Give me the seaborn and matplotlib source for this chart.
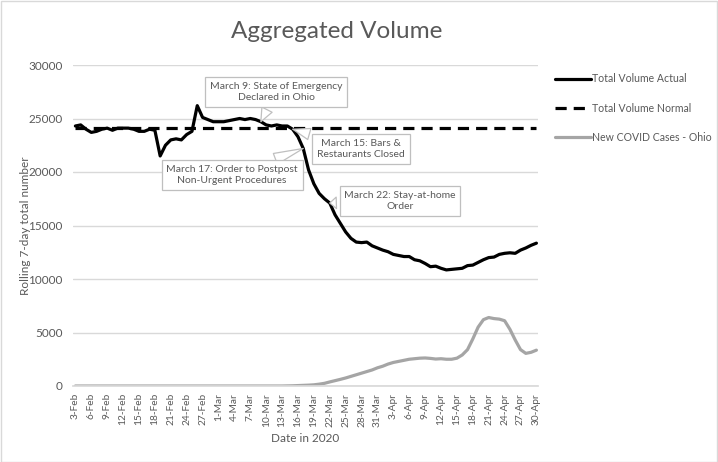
import matplotlib
matplotlib.use("Agg")
import matplotlib.pyplot as plt
import seaborn as sns
import pandas as pd
import numpy as np
from matplotlib.patches import Rectangle
from matplotlib.lines import Line2D

# ---------------- data ----------------
dates = pd.date_range("2020-02-03", "2020-04-30", freq="D")

total_volume_actual = [
    # Feb 3 - Feb 29
    24300, 24400, 24000, 23700, 23800, 24000, 24100, 23900, 24100, 24100,
    24100, 24000, 23800, 23800, 24000, 23900, 21500, 22500, 23000, 23100,
    23000, 23500, 23800, 26200, 25100, 24900, 24700,
    # Mar 1 - Mar 31
    24700, 24700, 24800, 24900, 25000, 24900, 25000, 24900, 24700, 24400,
    24300, 24400, 24300, 24300, 24000, 23300, 22200, 20200, 18900, 18000,
    17500, 17100, 16000, 15200, 14400, 13800, 13450, 13400, 13450, 13100,
    12900,
    # Apr 1 - Apr 30
    12700, 12550, 12300, 12200, 12100, 12100, 11800, 11700, 11450, 11150,
    11200, 11000, 10850, 10900, 10950, 11000, 11250, 11300, 11550, 11800,
    12000, 12050, 12300, 12400, 12450, 12400, 12700, 12900, 13150, 13350,
]

total_volume_normal = [24150] * 88

new_covid_cases_ohio = [
    # Feb 3 - Mar 12
    0, 0, 0, 0, 0, 0, 0, 0, 0, 0, 0, 0, 0, 0, 0, 0, 0, 0, 0, 0,
    0, 0, 0, 0, 0, 0, 0, 0, 0, 0, 0, 0, 0, 0, 0, 0, 0, 0, 0,
    # Mar 13 - Mar 31
    0, 10, 20, 40, 60, 80, 110, 170, 250, 380, 500, 620, 750, 900, 1050,
    1200, 1350, 1500, 1700,
    # Apr 1 - Apr 30
    1850, 2050, 2200, 2300, 2400, 2500, 2550, 2600, 2620, 2580,
    2520, 2550, 2500, 2500, 2600, 2900, 3400, 4400, 5500, 6200,
    6400, 6300, 6250, 6100, 5300, 4300, 3400, 3050, 3150, 3350,
]

series_names = ["Total Volume Actual", "Total Volume Normal", "New COVID Cases - Ohio"]
tick_labels = [f"{d.day}-{d.strftime('%b')}" for d in dates][::3]

annotations = [
    ("March 9: State of Emergency\nDeclared in Ohio", "2020-03-09"),
    ("March 15: Bars &\nRestaurants Closed", "2020-03-15"),
    ("March 17: Order to Postpost\nNon-Urgent Procedures", "2020-03-17"),
    ("March 22: Stay-at-home\nOrder", "2020-03-22"),
]

# ---------------- plot ----------------
sns.set_theme(style="white")
plt.rcParams["font.family"] = ["Lato", "DejaVu Sans"]

TXT = "#595959"
GRID = "#d9d9d9"

df = pd.DataFrame({
    "day": np.arange(len(dates)),
    series_names[0]: total_volume_actual,
    series_names[1]: total_volume_normal,
    series_names[2]: new_covid_cases_ohio,
})
long = df.melt(id_vars="day", var_name="series", value_name="value")

W, H = 718, 462
fig = plt.figure(figsize=(W / 100, H / 100), dpi=100)
fig.patches.append(Rectangle((0.5 / W, 0.5 / H), 1 - 1.5 / W, 1 - 1.5 / H,
                             transform=fig.transFigure, fill=False,
                             edgecolor=GRID, linewidth=1))
ax = fig.add_axes([73 / W, 1 - 386 / H, 465 / W, 321 / H])

palette = {series_names[0]: "black", series_names[1]: "black", series_names[2]: "#a5a5a5"}
sns.lineplot(data=long, x="day", y="value", hue="series", style="series",
             palette=palette,
             dashes={series_names[0]: "", series_names[1]: (3.5, 2.2), series_names[2]: ""},
             linewidth=2.3, ax=ax, legend=False)

ax.set_xlim(-0.45, 87.3)
ax.set_ylim(0, 30000)
ax.set_yticks(np.arange(0, 30001, 5000))
ax.set_xticks(np.arange(0, len(dates), 3))
ax.set_xticklabels(tick_labels, rotation=90, fontsize=7.3, color=TXT)
ax.tick_params(axis="y", labelsize=8.5, labelcolor=TXT, length=0, pad=7.5)
ax.tick_params(axis="x", length=0, pad=5)
ax.yaxis.grid(True, color=GRID, linewidth=1)
ax.set_axisbelow(True)
for s in ["top", "right", "left"]:
    ax.spines[s].set_visible(False)
ax.spines["bottom"].set_color(GRID)
ax.set_xlabel("Date in 2020", fontsize=8.5, color=TXT)
ax.set_ylabel("Rolling 7-day total number", fontsize=8.5, color=TXT)
ax.yaxis.set_label_coords((31 - 73) / 465, 0.5)
ax.xaxis.set_label_coords(0.5, -(433 - 386) / 321)

fig.text(337 / W, 1 - 31 / H, "Aggregated Volume", fontsize=17.5, color=TXT,
         ha="center", va="center")

# annotations (callouts)
text_pos = [(276, 92), (361, 149), (232, 175), (400, 201)]
for (label, d), (px, py) in zip(annotations, text_pos):
    i = int((pd.Timestamp(d) - dates[0]).days)
    ax.annotate(label, xy=(i, total_volume_actual[i]), xycoords="data",
                xytext=(px, H - py), textcoords="figure pixels",
                ha="center", va="center", fontsize=7.5, color=TXT,
                linespacing=1.3,
                bbox=dict(boxstyle="square,pad=0.45", fc="white", ec="#bfbfbf", lw=0.9),
                arrowprops=dict(arrowstyle="wedge,tail_width=1.1,shrink_factor=0.5",
                                fc="white", ec="#bfbfbf", lw=0.9, shrinkB=0),
                zorder=5)

# legend
handles = [
    Line2D([], [], color="black", lw=2.3),
    Line2D([], [], color="black", lw=2.3, dashes=(3.5, 2.2)),
    Line2D([], [], color="#a5a5a5", lw=2.3),
]
leg = fig.legend(handles, series_names, loc="upper left",
                 bbox_to_anchor=(551 / W, 1 - 69 / H), frameon=False,
                 fontsize=7.6, handlelength=3.4, handletextpad=0.1,
                 labelspacing=1.75, borderaxespad=0)
for t in leg.get_texts():
    t.set_color(TXT)

fig.savefig("out.png", dpi=100)
